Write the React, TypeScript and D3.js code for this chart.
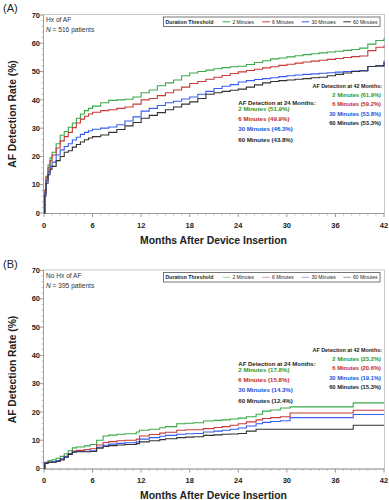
import React from "react";
import * as d3 from "d3";

const seriesNames = ["2 Minutes", "6 Minutes", "30 Minutes", "60 Minutes"];
const lineColors = ["#3aaa4a", "#c83a3a", "#3a5cf0", "#333333"];
const textColors = ["#259a35", "#c02a2a", "#2050e0", "#222222"];
const xTicks = [0, 6, 12, 18, 24, 30, 36, 42];
const yTicks = [0, 10, 20, 30, 40, 50, 60, 70];

// Panel A: history of AF
const monthsA = [0, 0.1, 0.25, 0.5, 0.75, 1, 1.5, 2, 2.5, 3, 3.5, 4, 4.5, 5, 5.5, 6, 7, 8, 9, 10, 11, 12, 13, 14, 15, 16, 17, 18, 19, 20, 21, 22, 23, 24, 25, 26, 27, 28, 29, 30, 31, 32, 33, 34, 35, 36, 37, 38, 39, 40, 41, 42];
const greenA = [0, 8, 13, 17, 19.5, 21.5, 24.5, 27.5, 28.8, 30.3, 31.8, 33.5, 35, 36.2, 37, 37.8, 39, 39.8, 40, 40.2, 41, 42.5, 43.5, 45, 46, 47, 48.5, 49.5, 50, 50.5, 51, 51.4, 51.7, 51.9, 52.5, 53.2, 53.8, 54.5, 54.8, 55.2, 55.6, 56, 56.3, 56.6, 56.9, 57.2, 57.5, 57.8, 58.3, 59.7, 61, 61.9];
const redA = [0, 8, 12.5, 16, 18.5, 20.5, 23, 25.5, 27, 28.5, 30.2, 31.8, 33.2, 34.2, 35, 35.6, 36.2, 36.5, 37, 37.5, 38.5, 40, 40.5, 41.5, 42.5, 43.5, 44.5, 45.8, 46.5, 47.3, 48, 48.6, 49.3, 49.9, 50.4, 50.8, 51.3, 51.7, 52.2, 52.6, 53, 53.4, 53.7, 54, 54.3, 54.6, 55, 55.3, 55.5, 57.4, 58.6, 59.2];
const blueA = [0, 7, 11.5, 14.5, 16.5, 18, 20.5, 22.3, 23.5, 24.5, 25.8, 26.8, 27.8, 28.5, 29.1, 29.6, 30, 30.4, 31.2, 32.5, 34, 36, 37, 38, 39, 39.5, 40.3, 41, 42, 43, 44, 44.8, 45.4, 46.3, 46.8, 47.2, 47.5, 47.8, 48.2, 48.5, 48.8, 49, 49.2, 49.4, 49.6, 49.8, 50, 50.2, 50.4, 51.8, 52, 53.8];
const blackA = [0, 6, 10.5, 13.5, 15.5, 16.5, 18.5, 20, 21.5, 22, 23.3, 24.2, 25.1, 25.9, 26.5, 27, 27.6, 28.5, 29.5, 30.8, 32, 33.5, 34.5, 35.5, 36.5, 37.5, 38.5, 39.3, 40.5, 42, 42.5, 43, 43.4, 43.8, 44.5, 45.3, 46, 46.5, 46.8, 47, 47.3, 47.5, 47.8, 48, 48.5, 49, 49.5, 50, 50.2, 51.8, 52, 53.3];
const at24A = ["51.9%", "49.9%", "46.3%", "43.8%"];
const at42A = ["61.9%", "59.2%", "53.8%", "53.3%"];

// Panel B: no history of AF
const monthsB = [0, 0.1, 0.5, 1, 1.5, 2, 2.5, 3, 3.5, 4, 5, 5.7, 6.5, 7.3, 8, 9, 10, 11.4, 11.8, 13, 14.3, 15, 16.4, 17.5, 18.5, 19.7, 21, 22, 23, 24, 25, 26.2, 27, 28, 29.2, 30.4, 32, 34, 36, 38.2, 42];
const greenB = [0, 2.2, 2.8, 3.1, 3.6, 4.3, 5.2, 6.3, 7.3, 7.6, 8, 8.5, 10, 11.5, 11.8, 12.1, 12.3, 12.9, 13.5, 13.9, 14.4, 14.8, 15.8, 16, 16.2, 16.8, 17, 17.2, 17.5, 17.8, 18.3, 19.2, 20.3, 20.7, 21.4, 21.8, 21.8, 21.8, 21.8, 23.2, 23.2];
const redB = [0, 2, 2.3, 2.4, 2.8, 3.4, 4.3, 5.3, 6.2, 6.4, 6.7, 7, 8.3, 9.2, 9.5, 9.8, 10, 10.4, 11.5, 12, 12.5, 12.8, 13.5, 13.7, 13.7, 14.1, 14.5, 14.8, 15.3, 15.8, 16.5, 17.2, 17.7, 18, 18.3, 19.6, 19.6, 19.6, 19.6, 20.6, 20.6];
const blueB = [0, 2, 2.3, 2.4, 2.8, 3.3, 4.2, 5.2, 5.9, 6, 6.1, 6.3, 7.5, 8.2, 8.6, 8.9, 9.1, 9.4, 10.4, 10.9, 11.4, 11.7, 12.1, 12.3, 12.4, 12.9, 13.2, 13.5, 13.9, 14.3, 15, 15.8, 16.3, 16.6, 16.9, 18, 18, 18, 18, 19.1, 19.1];
const blackB = [0, 1.8, 2.1, 2.2, 2.5, 3, 4, 5, 5.8, 5.9, 5.9, 6, 7.2, 7.8, 8.1, 8.3, 8.5, 8.8, 9.4, 9.8, 10.2, 10.5, 10.9, 11.1, 11.2, 11.7, 11.9, 12.1, 12.2, 12.4, 13.2, 13.9, 13.9, 13.9, 13.9, 13.9, 13.9, 13.9, 13.9, 15.3, 15.3];
const at24B = ["17.8%", "15.8%", "14.3%", "12.4%"];
const at42B = ["23.2%", "20.6%", "19.1%", "15.3%"];

const FONT = "'Liberation Sans', Arial, sans-serif";

type PanelProps = {
  top: number;
  label: string;
  cohort: string;
  n: string;
  months: number[];
  series: number[][];
  at24: string[];
  at42: string[];
  paleLegend: boolean;
  y24: number;
  y42: number;
};

function Panel(p: PanelProps) {
  const x = d3.scaleLinear().domain([0, 42]).range([44, 384]);
  const y = d3.scaleLinear().domain([0, 70]).range([p.top + 199, p.top + 1]);
  const bottom = p.top + 199.5;
  const line = d3
    .line<[number, number]>()
    .x((d) => x(d[0]))
    .y((d) => y(d[1]))
    .curve(d3.curveStepAfter);
  const minorX = d3.range(0, 43, 1);
  const minorY = d3.range(0, 71, 2);
  const legendX = [222.7, 262.3, 301.7, 343.3];
  const legTop = p.top + 3;
  return (
    <g>
      <text x={3} y={p.top - 2} fontSize={11} fontFamily={FONT} fill="#222">{p.label}</text>
      <rect x={43.5} y={p.top + 0.5} width={341} height={199} fill="none" stroke="#c8c8c8" strokeWidth={1} />
      <line x1={43.5} x2={43.5} y1={p.top + 0.5} y2={bottom} stroke="#a0a0a0" />
      <line x1={43.5} x2={384.5} y1={bottom} y2={bottom} stroke="#a0a0a0" />
      {minorX.map((m) => (
        <line key={"mx" + m} x1={x(m)} x2={x(m)} y1={bottom} y2={bottom + (m % 6 === 0 ? 3.5 : 2)} stroke="#999" strokeWidth={m % 6 === 0 ? 1 : 0.6} />
      ))}
      {minorY.map((v) => (
        <line key={"my" + v} x1={43.5} x2={43.5 - (v % 10 === 0 ? 3.5 : 2)} y1={y(v)} y2={y(v)} stroke="#999" strokeWidth={v % 10 === 0 ? 1 : 0.6} />
      ))}
      {xTicks.map((t) => (
        <text key={"xt" + t} x={x(t)} y={bottom + 14} fontSize={7.5} fontWeight="bold" fontFamily={FONT} textAnchor="middle" fill="#222">{t}</text>
      ))}
      {yTicks.map((t) => (
        <text key={"yt" + t} x={40} y={y(t) + 2.7} fontSize={7.5} fontWeight="bold" fontFamily={FONT} textAnchor="end" fill="#222">{t}</text>
      ))}
      <text x={213.5} y={bottom + 30} fontSize={10.4} fontWeight="bold" fontFamily={FONT} textAnchor="middle" fill="#222">Months After Device Insertion</text>
      <text transform={`translate(15.5,${p.top + 100}) rotate(-90)`} fontSize={10.3} fontWeight="bold" fontFamily={FONT} textAnchor="middle" fill="#222">AF Detection Rate (%)</text>
      <text x={46} y={p.top + 8} fontSize={6.6} fontFamily={FONT} fill="#333">{p.cohort}</text>
      <text x={46} y={p.top + 18} fontSize={6.6} fontFamily={FONT} fill="#333">
        <tspan fontStyle="italic">N</tspan> = {p.n} patients
      </text>
      {p.series.map((vals, i) => (
        <path key={"s" + i} d={line(p.months.map((m, j) => [m, vals[j]] as [number, number])) || ""} fill="none" stroke={lineColors[i]} strokeWidth={1.1} />
      ))}
      <rect x={163.5} y={legTop} width={216.5} height={9.5} fill="#fff" stroke="#555" strokeWidth={0.8} />
      <text x={165.5} y={legTop + 6.6} fontSize={5.2} fontWeight="bold" fontFamily={FONT} fill="#222">Duration Threshold</text>
      {seriesNames.map((s, i) => (
        <g key={"lg" + i}>
          <line x1={legendX[i]} x2={legendX[i] + 7.5} y1={legTop + 4.8} y2={legTop + 4.8} stroke={lineColors[i]} strokeWidth={1} opacity={p.paleLegend ? 0.5 : 1} />
          <text x={legendX[i] + 9.7} y={legTop + 6.6} fontSize={5} fontFamily={FONT} fill="#222">{s}</text>
        </g>
      ))}
      <text x={238.3} y={p.y24} fontSize={6} fontWeight="bold" fontFamily={FONT} fill="#222">AF Detection at 24 Months:</text>
      {seriesNames.map((s, i) => (
        <text key={"a24" + i} x={238.3} y={p.y24 + 6.5 + i * 10.2} fontSize={6.1} fontWeight="bold" fontFamily={FONT} fill={textColors[i]}>{`${s} (${p.at24[i]})`}</text>
      ))}
      <text x={382} y={p.y42} fontSize={5.4} fontWeight="bold" fontFamily={FONT} textAnchor="end" fill="#222">AF Detection at 42 Months:</text>
      {seriesNames.map((s, i) => (
        <text key={"a42" + i} x={381} y={p.y42 + 9.4 * (i + 1)} fontSize={5.8} fontWeight="bold" fontFamily={FONT} textAnchor="end" fill={textColors[i]}>{`${s} (${p.at42[i]})`}</text>
      ))}
    </g>
  );
}

export default function App() {
  return (
    <svg width={389} height={500} style={{ position: "absolute", left: 0, top: 0, background: "#fff" }}>
      <Panel top={14} label="(A)" cohort="Hx of AF" n="516" months={monthsA} series={[greenA, redA, blueA, blackA]} at24={at24A} at42={at42A} paleLegend={false} y24={104.5} y42={87.5} />
      <Panel top={269.5} label="(B)" cohort="No Hx of AF" n="395" months={monthsB} series={[greenB, redB, blueB, blackB]} at24={at24B} at42={at42B} paleLegend={true} y24={365.5} y42={351.5} />
    </svg>
  );
}
